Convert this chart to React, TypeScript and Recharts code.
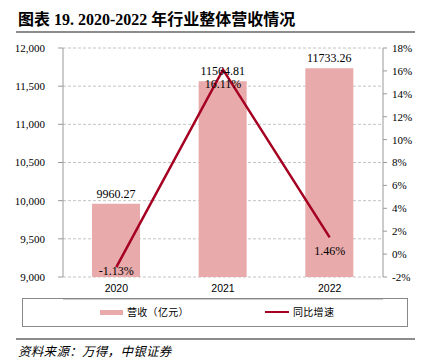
import React from 'react';
import { ComposedChart, Bar, Line, XAxis, YAxis, CartesianGrid, LabelList } from 'recharts';

const years = ['2020', '2021', '2022'];
const revenue = [9960.27, 11564.81, 11733.26];
const growth = [-1.13, 16.11, 1.46];
const leftTicks = [9000, 9500, 10000, 10500, 11000, 11500, 12000];
const rightTicks = [-2, 0, 2, 4, 6, 8, 10, 12, 14, 16, 18];
const boundaryTicks = [1, 2];

const data = years.map((y, i) => ({ year: y, revenue: revenue[i], growth: growth[i] }));

const BAR_COLOR = '#E8AAAA';
const LINE_COLOR = '#A50021';
const SERIF = '"Liberation Serif", "Times New Roman", serif';
const SANS = '"Liberation Sans", Arial, sans-serif';
const CJK = '"Liberation Serif", "Noto Sans CJK SC", serif';

const GrowthLabel = (props: any) => {
  const { x, y, value } = props;
  const ty = Math.min(y + 18, 275);
  return (
    <text x={x} y={ty} textAnchor="middle" fontFamily={SERIF} fontSize={12} fill="#000">
      {`${Number(value).toFixed(2)}%`}
    </text>
  );
};

export default function App() {
  return (
    <div style={{ position: 'absolute', left: 0, top: 0, width: 426, height: 362, background: '#fff' }}>
      <div style={{ position: 'absolute', left: 18, top: 9, fontFamily: CJK, fontWeight: 'bold', fontSize: 16, color: '#000', whiteSpace: 'nowrap', lineHeight: '22px' }}>
        图表 19. 2020-2022 年行业整体营收情况
      </div>
      <div style={{ position: 'absolute', left: 16, top: 31, width: 399, height: 2, background: '#8c8c8c' }} />
      <div style={{ position: 'absolute', left: 0, top: 0 }}>
        <ComposedChart width={426} height={300} data={data} margin={{ top: 48, right: 0, left: 0, bottom: 0 }}>
          <CartesianGrid yAxisId="left" vertical={false} stroke="#c4c4c4" strokeDasharray="3 2" />
          <XAxis xAxisId="grid" type="number" domain={[0, 3]} ticks={boundaryTicks} tick={false} tickSize={5} height={1} axisLine={{ stroke: '#999' }} tickLine={{ stroke: '#999' }} allowDataOverflow />
          <XAxis dataKey="year" height={22} axisLine={false} tickLine={false} tickMargin={2} tick={{ fontFamily: SANS, fontSize: 10.5, fill: '#000' }} />
          <YAxis yAxisId="left" width={63} domain={[9000, 12000]} ticks={leftTicks} tickFormatter={(v: number) => v.toLocaleString('en-US')} tick={{ fontFamily: SERIF, fontSize: 11, fill: '#000' }} tickSize={5} tickMargin={13} axisLine={{ stroke: '#999' }} tickLine={{ stroke: '#999' }} allowDataOverflow />
          <YAxis yAxisId="right" orientation="right" width={43} domain={[-2, 18]} ticks={rightTicks} tickFormatter={(v: number) => `${v}%`} tick={{ fontFamily: SERIF, fontSize: 11, fill: '#000' }} tickSize={4} tickMargin={5} axisLine={{ stroke: '#999' }} tickLine={{ stroke: '#999' }} allowDataOverflow />
          <Bar yAxisId="left" dataKey="revenue" fill={BAR_COLOR} barSize={48} isAnimationActive={false}>
            <LabelList dataKey="revenue" position="top" offset={6} formatter={(v: any) => Number(v).toFixed(2)} style={{ fontFamily: SERIF, fontSize: 12, fill: '#000' }} />
          </Bar>
          <Line yAxisId="right" dataKey="growth" stroke={LINE_COLOR} strokeWidth={2.5} dot={false} isAnimationActive={false}>
            <LabelList dataKey="growth" content={<GrowthLabel />} />
          </Line>
        </ComposedChart>
      </div>
      <div style={{ position: 'absolute', left: 22, top: 298, width: 384, height: 27, border: '1px solid #888', boxSizing: 'content-box' }} />
      <div style={{ position: 'absolute', left: 100, top: 310, width: 23, height: 5, background: BAR_COLOR }} />
      <div style={{ position: 'absolute', left: 127, top: 305, fontFamily: '"Noto Sans CJK SC", sans-serif', fontSize: 10, lineHeight: '14px', color: '#000', whiteSpace: 'nowrap', letterSpacing: 0.3 }}>营收（亿元）</div>
      <div style={{ position: 'absolute', left: 265, top: 311, width: 24, height: 2, background: LINE_COLOR }} />
      <div style={{ position: 'absolute', left: 293, top: 305, fontFamily: '"Noto Sans CJK SC", sans-serif', fontSize: 10, lineHeight: '14px', color: '#000', whiteSpace: 'nowrap', letterSpacing: 0.3 }}>同比增速</div>
      <div style={{ position: 'absolute', left: 16, top: 338, width: 399, height: 1.5, background: '#8c8c8c' }} />
      <div style={{ position: 'absolute', left: 18, top: 342, fontFamily: '"Noto Sans CJK SC", sans-serif', fontStyle: 'italic', fontSize: 12.5, lineHeight: '18px', color: '#000', whiteSpace: 'nowrap', letterSpacing: 0.3 }}>资料来源：万得，中银证券</div>
    </div>
  );
}
